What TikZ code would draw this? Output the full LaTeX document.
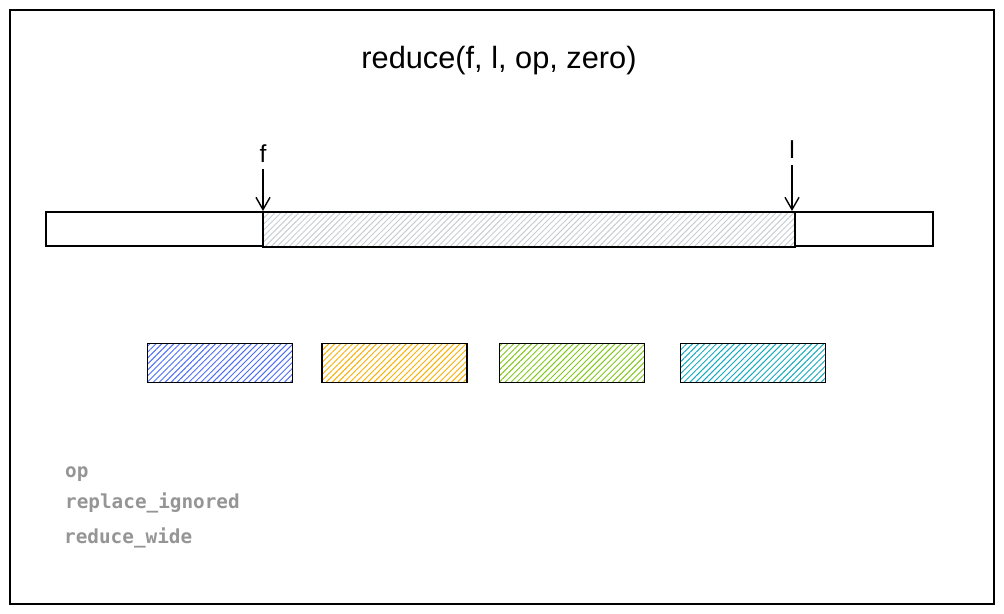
\documentclass[tikz,border=0pt]{standalone}
\usepackage{fontspec}
\setmainfont{Liberation Sans}
\setmonofont{DejaVu Sans Mono}
\usetikzlibrary{positioning,arrows.meta,patterns.meta}
\definecolor{hblue}{HTML}{4C6EF5}
\definecolor{horange}{HTML}{FAB005}
\definecolor{hgreen}{HTML}{82C91E}
\definecolor{hcyan}{HTML}{15AABF}
\definecolor{hgray}{HTML}{C8CDD3}
\definecolor{codegray}{HTML}{959595}

\begin{document}
\begin{tikzpicture}[x=0.02cm,y=-0.02cm,
  hatch/.style={pattern={Lines[angle=45,distance=2.4pt,line width=0.55pt]},pattern color=#1},
  chunk/.style={draw,line width=0.8pt,minimum width=2.9cm,minimum height=0.78cm,hatch=#1},
  ptr/.style={line width=0.8pt,-{Straight Barb[length=7pt,width=8pt]}},
  code/.style={anchor=west,text=codegray,font=\ttfamily\bfseries\fontsize{11}{13}\selectfont}]
\useasboundingbox (0,0) rectangle (1004,613);
%frame
\draw[line width=0.7pt] (10,10) rectangle (994,604);
\node (title) at (499,61) {\fontsize{17.5}{20}\selectfont reduce(f, l, op, zero)};
%range
\draw[line width=0.8pt] (46,212) rectangle (263,246);
\draw[line width=0.8pt] (795,212) rectangle (933,246);
\draw[line width=0.8pt,hatch=hgray] (263,212) rectangle (795,247);
\coordinate (first) at (263,211);
\coordinate (last) at (792,211);
\node[font=\fontsize{14}{16}\selectfont] (f) at (263,154) {f};
\node[font=\fontsize{14}{16}\selectfont] (l) at (792,150) {l};
\draw[ptr] (f.south) -- (first);
\draw[ptr] (l.south) -- (last);
%chunks
\node[chunk=hblue] (c1) at (220,363) {};
\node[chunk=horange,right=0.56cm of c1] (c2) {};
\node[chunk=hgreen,right=0.62cm of c2] (c3) {};
\node[chunk=hcyan,right=0.70cm of c3] (c4) {};
%names
\node[code] (op) at (59,474) {op};
\node[code] (repl) at (59,503) {replace\_ignored};
\node[code] (wide) at (58,538) {reduce\_wide};
\end{tikzpicture}
\end{document}
